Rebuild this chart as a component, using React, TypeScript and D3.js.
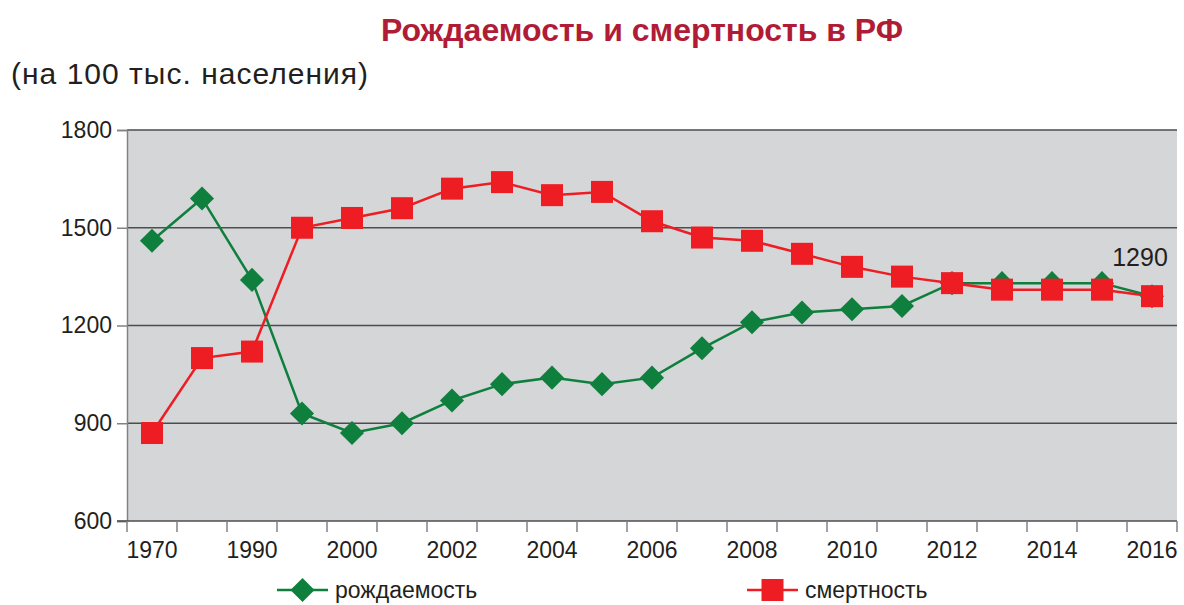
// Рождаемость и смертность в РФ — line chart with diamond / square markers.
import React, { useEffect, useRef } from 'react';
import * as d3 from 'd3';

const WIDTH = 1184;
const HEIGHT = 605;

const years = [
  '1970', '1980', '1990', '1995', '2000', '2001', '2002', '2003', '2004', '2005', '2006',
  '2007', '2008', '2009', '2010', '2011', '2012', '2013', '2014', '2015', '2016',
];
const births = [
  1460, 1590, 1340, 930, 870, 900, 970, 1020, 1040, 1020, 1040,
  1130, 1210, 1240, 1250, 1260, 1330, 1330, 1330, 1330, 1290,
];
const deaths = [
  870, 1100, 1120, 1500, 1530, 1560, 1620, 1640, 1600, 1610, 1520,
  1470, 1460, 1420, 1380, 1350, 1330, 1310, 1310, 1310, 1290,
];
const yTicks = [600, 900, 1200, 1500, 1800];
// only every other year gets a label on the axis
const xLabels = ['1970', '1990', '2000', '2002', '2004', '2006', '2008', '2010', '2012', '2014', '2016'];

const GREEN = '#0e7f3c';
const RED = '#ee1d23';
const INK = '#231f20';
const FONT = 'Liberation Sans, Arial, sans-serif';

const PLOT = { left: 127, right: 1177, top: 130, bottom: 521 };

export default function App() {
  const svgRef = useRef<SVGSVGElement>(null);

  useEffect(() => {
    const svg = d3.select(svgRef.current);
    svg.selectAll('*').remove();

    const x = d3.scaleBand().domain(years).range([PLOT.left, PLOT.right]);
    const y = d3.scaleLinear().domain([600, 1800]).range([PLOT.bottom, PLOT.top]);
    const cx = (d: string) => (x(d) ?? 0) + x.bandwidth() / 2;

    svg.append('rect').attr('width', WIDTH).attr('height', HEIGHT).attr('fill', 'white');

    // title + units
    svg
      .append('text')
      .attr('x', 642)
      .attr('y', 41)
      .attr('text-anchor', 'middle')
      .attr('font-family', FONT)
      .attr('font-weight', 'bold')
      .attr('font-size', '32px')
      .attr('fill', '#b01c36')
      .text('Рождаемость и смертность в РФ');
    svg
      .append('text')
      .attr('x', 11)
      .attr('y', 84)
      .attr('font-family', FONT)
      .attr('font-size', '30px')
      .attr('textLength', 357)
      .attr('lengthAdjust', 'spacing')
      .attr('fill', INK)
      .text('(на 100 тыс. населения)');

    // plot background
    svg
      .append('rect')
      .attr('x', PLOT.left)
      .attr('y', PLOT.top)
      .attr('width', PLOT.right - PLOT.left)
      .attr('height', PLOT.bottom - PLOT.top)
      .attr('fill', '#d5d6d8');

    // gridlines
    svg
      .append('g')
      .selectAll('line')
      .data(yTicks.filter((t) => t > 600))
      .enter()
      .append('line')
      .attr('x1', PLOT.left)
      .attr('x2', PLOT.right)
      .attr('y1', (d) => y(d))
      .attr('y2', (d) => y(d))
      .attr('stroke', '#4d4d4f')
      .attr('stroke-width', 1.3);

    // y axis
    const yAxis = svg
      .append('g')
      .attr('transform', `translate(${PLOT.left},0)`)
      .call(d3.axisLeft(y).tickValues(yTicks).tickFormat(d3.format('d')).tickSize(10).tickPadding(5));
    yAxis.select('.domain').attr('stroke', '#808285').attr('stroke-width', 1.5);
    yAxis.selectAll('.tick line').attr('stroke', '#808285').attr('stroke-width', 1.5);
    yAxis
      .selectAll('.tick text')
      .attr('font-family', FONT)
      .attr('font-size', '23px')
      .attr('fill', INK);

    // x axis: baseline + ticks at category boundaries
    const xAxisG = svg.append('g');
    xAxisG
      .append('line')
      .attr('x1', PLOT.left - 10)
      .attr('x2', PLOT.right)
      .attr('y1', PLOT.bottom)
      .attr('y2', PLOT.bottom)
      .attr('stroke', '#4d4d4f')
      .attr('stroke-width', 1.5);
    const bounds = years.map((d) => x(d) ?? 0).concat([PLOT.right]);
    xAxisG
      .selectAll('line.tick')
      .data(bounds)
      .enter()
      .append('line')
      .attr('class', 'tick')
      .attr('x1', (d) => d)
      .attr('x2', (d) => d)
      .attr('y1', PLOT.bottom)
      .attr('y2', PLOT.bottom + 11)
      .attr('stroke', '#808285')
      .attr('stroke-width', 1.5);
    xAxisG
      .selectAll('text')
      .data(xLabels)
      .enter()
      .append('text')
      .attr('x', (d) => cx(d))
      .attr('y', 558)
      .attr('text-anchor', 'middle')
      .attr('font-family', FONT)
      .attr('font-size', '23px')
      .attr('fill', INK)
      .text((d) => d);

    const line = d3
      .line<number>()
      .x((_d, i) => cx(years[i]))
      .y((d) => y(d));

    // births (green, diamonds)
    svg
      .append('path')
      .datum(births)
      .attr('fill', 'none')
      .attr('stroke', GREEN)
      .attr('stroke-width', 2.5)
      .attr('d', line);
    const diamond = d3.symbol().type(d3.symbolSquare).size(290);
    svg
      .append('g')
      .selectAll('path')
      .data(births)
      .enter()
      .append('path')
      .attr('d', diamond)
      .attr('transform', (d, i) => `translate(${cx(years[i])},${y(d)}) rotate(45)`)
      .attr('fill', GREEN);

    // deaths (red, squares)
    svg
      .append('path')
      .datum(deaths)
      .attr('fill', 'none')
      .attr('stroke', RED)
      .attr('stroke-width', 2.5)
      .attr('d', line);
    svg
      .append('g')
      .selectAll('rect')
      .data(deaths)
      .enter()
      .append('rect')
      .attr('x', (_d, i) => cx(years[i]) - 11)
      .attr('y', (d) => y(d) - 11)
      .attr('width', 22)
      .attr('height', 22)
      .attr('fill', RED);

    // last value label
    const last = years.length - 1;
    svg
      .append('text')
      .attr('x', cx(years[last]) - 12)
      .attr('y', y(deaths[last]) - 30)
      .attr('text-anchor', 'middle')
      .attr('font-family', FONT)
      .attr('font-size', '25px')
      .attr('fill', INK)
      .text(deaths[last]);

    // legend
    const legend = [
      { label: 'рождаемость', color: GREEN, x: 277, kind: 'diamond' },
      { label: 'смертность', color: RED, x: 747, kind: 'square' },
    ];
    legend.forEach((l) => {
      const g = svg.append('g').attr('transform', `translate(${l.x},590)`);
      g.append('line')
        .attr('x1', 0)
        .attr('x2', 51)
        .attr('stroke', l.color)
        .attr('stroke-width', 2.5);
      if (l.kind === 'diamond') {
        g.append('path')
          .attr('d', diamond)
          .attr('transform', 'translate(25.5,0) rotate(45)')
          .attr('fill', l.color);
      } else {
        g.append('rect').attr('x', 14.5).attr('y', -11).attr('width', 22).attr('height', 22).attr('fill', l.color);
      }
      g.append('text')
        .attr('x', 58)
        .attr('y', 8)
        .attr('font-family', FONT)
        .attr('font-size', '23px')
        .attr('fill', INK)
        .text(l.label);
    });
  }, []);

  return <svg ref={svgRef} width={WIDTH} height={HEIGHT} style={{ display: 'block', position: 'absolute', left: 0, top: 0 }} />;
}
